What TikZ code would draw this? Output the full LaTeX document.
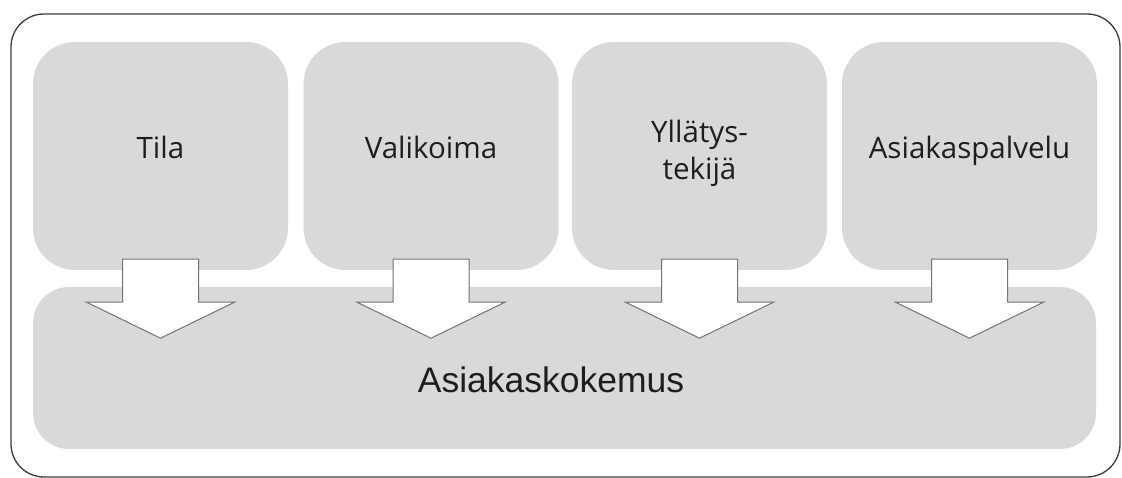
\documentclass[tikz,border=0pt]{standalone}
\usepackage{fontspec}
\setmainfont{Open Sans}
\newfontfamily\arialfont{Liberation Sans}
\usetikzlibrary{calc}
\definecolor{boxgray}{HTML}{D9D9D9}
\definecolor{framecol}{HTML}{3A3A3A}
\definecolor{arrowline}{HTML}{737373}
\definecolor{txt}{HTML}{1E1E1E}
\tikzset{
  topbox/.style={draw=none, fill=boxgray, rounded corners=42pt, minimum width=255pt, minimum height=228pt, inner sep=0pt},
  bottombox/.style={draw=none, fill=boxgray, rounded corners=36pt, minimum width=1063pt, minimum height=162pt, inner sep=0pt},
  lbl/.style={text=txt, font=\fontsize{29.5}{37}\selectfont, align=center, inner sep=0pt},
  biglbl/.style={text=txt, font=\arialfont\fontsize{35.5}{42}\selectfont, inner sep=0pt},
  blockarrow/.style={fill=white, draw=arrowline, line width=1pt, line join=miter},
  frame/.style={draw=framecol, line width=1.3pt, rounded corners=33pt}
}
\begin{document}
\begin{tikzpicture}[x=1pt,y=1pt]
\useasboundingbox (0,0) rectangle (1122,478);
\draw[frame] (11,1) rectangle (1120,464);
\node[topbox] (b1) at (160.5,322) {};
\node[topbox] (b2) at (431,322) {};
\node[topbox] (b3) at (699.5,322) {};
\node[topbox] (b4) at (969.5,322) {};
\node[bottombox] (bb) at (564.5,110) {};
\node[lbl, anchor=base] (t1) at ($(b1.center)+(0,-3)$) {Tila};
\node[lbl, anchor=base] (t2) at ($(b2.center)+(0,-3)$) {Valikoima};
\node[lbl, anchor=center] (t3) at ($(b3.center)+(0,3)$) {Yllätys-\\tekijä};
\node[lbl, anchor=base] (t4) at ($(b4.center)+(0,-3)$) {Asiakaspalvelu};
\node[biglbl, anchor=base] (tb) at (551,85) {Asiakaskokemus};
\foreach \b in {b1,b2,b3,b4}{
  \draw[blockarrow] ($(\b.south)+(-38,11)$) -- ($(\b.south)+(38,11)$) -- ($(\b.south)+(38,-32)$) -- ($(\b.south)+(74,-32)$) -- ($(\b.south)+(0,-68)$) -- ($(\b.south)+(-74,-32)$) -- ($(\b.south)+(-38,-32)$) -- cycle;
}
\end{tikzpicture}
\end{document}
